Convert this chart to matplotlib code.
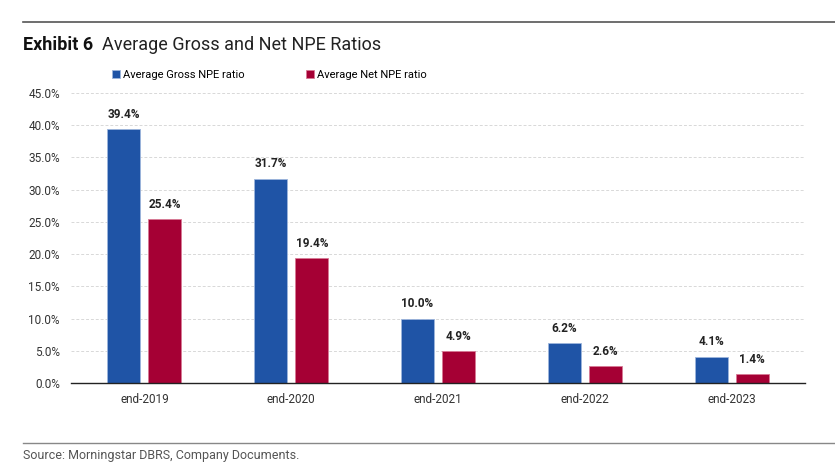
import matplotlib
matplotlib.use('Agg')
import matplotlib.pyplot as plt
import numpy as np

# Data
years = ['end-2019', 'end-2020', 'end-2021', 'end-2022', 'end-2023']
gross = [39.4, 31.7, 10.0, 6.2, 4.1]
net = [25.4, 19.4, 4.9, 2.6, 1.4]

blue = '#1F54A6'
red = '#A50034'
plt.rcParams['font.family'] = ['Roboto', 'DejaVu Sans']

fig = plt.figure(figsize=(8.35, 4.69), dpi=100)
ax = fig.add_axes([71/835, 1-383/469, 734/835, 290/469])

x = np.arange(len(years))
w = 0.225
off = 0.14
b1 = ax.bar(x-off, gross, w, color=blue, edgecolor='#9db5dc', linewidth=0.6, label='Average Gross NPE ratio', zorder=3)
b2 = ax.bar(x+off, net, w, color=red, edgecolor='#d87a95', linewidth=0.6, label='Average Net NPE ratio', zorder=3)

for xi, v in zip(x-off, gross):
    ax.text(xi, v+1.3, '%.1f%%' % v, ha='center', va='bottom', fontsize=8.5, fontweight='bold', color='#222222')
for xi, v in zip(x+off, net):
    ax.text(xi, v+1.3, '%.1f%%' % v, ha='center', va='bottom', fontsize=8.5, fontweight='bold', color='#222222')

ax.set_xlim(-0.5, len(years)-0.5)
ax.set_ylim(0, 45)
ax.set_yticks(np.arange(0, 46, 5))
ax.set_yticklabels(['%.1f%%' % t for t in np.arange(0, 46, 5)], fontsize=8.5, color='#333333')
ax.set_xticks(x)
ax.set_xticklabels(years, fontsize=8.5, color='#333333')
ax.tick_params(axis='x', length=0, pad=7)
ax.tick_params(axis='y', length=0, pad=8)
ax.yaxis.grid(True, linestyle=(0, (3, 2)), color='#d8d8d8', linewidth=0.7, zorder=0)
for s in ['top', 'right', 'left']:
    ax.spines[s].set_visible(False)
ax.spines['bottom'].set_color('#222222')
ax.spines['bottom'].set_linewidth(1.0)
ax.spines['bottom'].set_zorder(4)

leg = fig.legend(handles=[b1, b2], loc='center left', bbox_to_anchor=(112/835, 1-75/469), ncol=2,
                 frameon=False, fontsize=8, handlelength=0.7, handleheight=0.7, handletextpad=0.3,
                 columnspacing=5.5, borderaxespad=0, borderpad=0)

# header and footer lines
fig.add_artist(plt.Line2D([23/835, 1], [1-22/469, 1-22/469], color='#555555', linewidth=1.2))
fig.add_artist(plt.Line2D([23/835, 1], [1-443/469, 1-443/469], color='#888888', linewidth=1.0))
t1 = fig.text(23/835, 1-45/469, 'Exhibit 6', fontsize=13, fontweight='bold', va='center', ha='left', color='#111111')
fig.canvas.draw()
bb = t1.get_window_extent()
fig.text((bb.x1+9)/835, 1-45/469, 'Average Gross and Net NPE Ratios', fontsize=13, va='center', ha='left', color='#222222')
fig.text(23/835, 1-455/469, 'Source: Morningstar DBRS, Company Documents.', fontsize=9, va='center', ha='left', color='#555555')

fig.savefig('out.png', dpi=100)
